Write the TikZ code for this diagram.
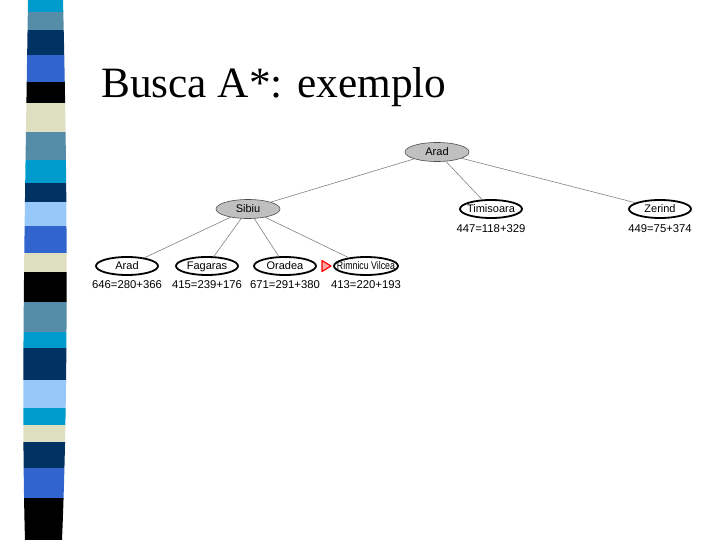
\documentclass[tikz,border=0pt]{standalone}
\usepackage{fontspec}
\setmainfont{Liberation Serif}
\newfontfamily\arialf{Liberation Sans}
\newfontfamily\arialnarrow[FakeStretch=0.8]{Liberation Sans}
\usetikzlibrary{shapes.geometric}
\definecolor{cyanA}{RGB}{0,155,205}
\definecolor{steelA}{RGB}{85,140,168}
\definecolor{navyA}{RGB}{0,50,100}
\definecolor{royalA}{RGB}{50,100,205}
\definecolor{creamA}{RGB}{222,222,192}
\definecolor{lightA}{RGB}{150,200,250}
\definecolor{nodegray}{RGB}{192,192,192}
\definecolor{edgegray}{RGB}{130,130,130}
\tikzset{
  ellbase/.style={ellipse, inner xsep=-7pt, inner ysep=0pt, text height=8.2pt, text depth=0.3pt, font=\arialf\fontsize{11}{12}\selectfont},
  expanded/.style={ellbase, draw=black!70, fill=nodegray, line width=0.6pt, minimum width=64pt, minimum height=19pt},
  leafnode/.style={ellbase, draw=black, fill=white, line width=1.8pt, minimum width=62pt, minimum height=18pt},
  fval/.style={font=\arialf\fontsize{11.3}{12}\selectfont, inner sep=0pt},
  edge/.style={draw=edgegray, line width=0.6pt}
}
\begin{document}
\begin{tikzpicture}[x=1pt,y=-1pt]
\useasboundingbox (0,0) rectangle (720,540);
\fill[white] (0,0) rectangle (720,540);
% decorative stripe bar
\begin{scope}
\clip (28,0) .. controls (25,200) and (21,400) .. (25,540) -- (62,540) .. controls (68,400) and (68,200) .. (63,0) -- cycle;
\fill[cyanA] (0,0) rectangle (80,12);
\fill[steelA] (0,12) rectangle (80,30);
\fill[navyA] (0,30) rectangle (80,55);
\fill[royalA] (0,55) rectangle (80,82);
\fill[black] (0,82) rectangle (80,103);
\fill[creamA] (0,103) rectangle (80,132);
\fill[steelA] (0,132) rectangle (80,160);
\fill[cyanA] (0,160) rectangle (80,183);
\fill[navyA] (0,183) rectangle (80,202);
\fill[lightA] (0,202) rectangle (80,226);
\fill[royalA] (0,226) rectangle (80,253);
\fill[creamA] (0,253) rectangle (80,272);
\fill[black] (0,272) rectangle (80,302);
\fill[steelA] (0,302) rectangle (80,332);
\fill[cyanA] (0,332) rectangle (80,348);
\fill[navyA] (0,348) rectangle (80,380);
\fill[lightA] (0,380) rectangle (80,408);
\fill[cyanA] (0,408) rectangle (80,425);
\fill[creamA] (0,425) rectangle (80,442);
\fill[navyA] (0,442) rectangle (80,468);
\fill[royalA] (0,468) rectangle (80,498);
\fill[black] (0,498) rectangle (80,540);
\end{scope}
% title
\node[anchor=base west, inner sep=0pt, font=\fontsize{43.3}{46}\selectfont] (title) at (101,98) {Busca A*: exemplo};
% tree
\node[expanded] (arad) at (437,152) {Arad};
\node[expanded] (sibiu) at (248,209) {Sibiu};
\node[leafnode] (tim) at (491,209) {Timisoara};
\node[leafnode] (zer) at (660,209) {Zerind};
\node[fval] (ftim) at (491,229) {447=118+329};
\node[fval] (fzer) at (660,229) {449=75+374};
\node[leafnode] (arad2) at (127,266) {Arad};
\node[leafnode] (fag) at (207,266) {Fagaras};
\node[leafnode] (ora) at (285,266) {Oradea};
\node[leafnode, minimum width=64pt, font=\arialnarrow\fontsize{11}{12}\selectfont] (rim) at (366,266) {Rimnicu Vilcea};
\node[fval] (farad) at (127,285) {646=280+366};
\node[fval] (ffag) at (207,285) {415=239+176};
\node[fval] (fora) at (285,285) {671=291+380};
\node[fval] (frim) at (366,285) {413=220+193};
\draw[edge] (arad) -- (sibiu);
\draw[edge] (arad) -- (tim);
\draw[edge] (arad) -- (zer);
\draw[edge] (sibiu) -- (arad2);
\draw[edge] (sibiu) -- (fag);
\draw[edge] (sibiu) -- (ora);
\draw[edge] (sibiu) -- (rim);
% selection marker
\coordinate (mk) at (326,266);
\draw[red, fill=red!35, line width=1.2pt, line join=round] ([xshift=-4pt,yshift=-5.5pt]mk) -- ([xshift=5pt]mk) -- ([xshift=-4pt,yshift=5.5pt]mk) -- cycle;
\end{tikzpicture}
\end{document}
